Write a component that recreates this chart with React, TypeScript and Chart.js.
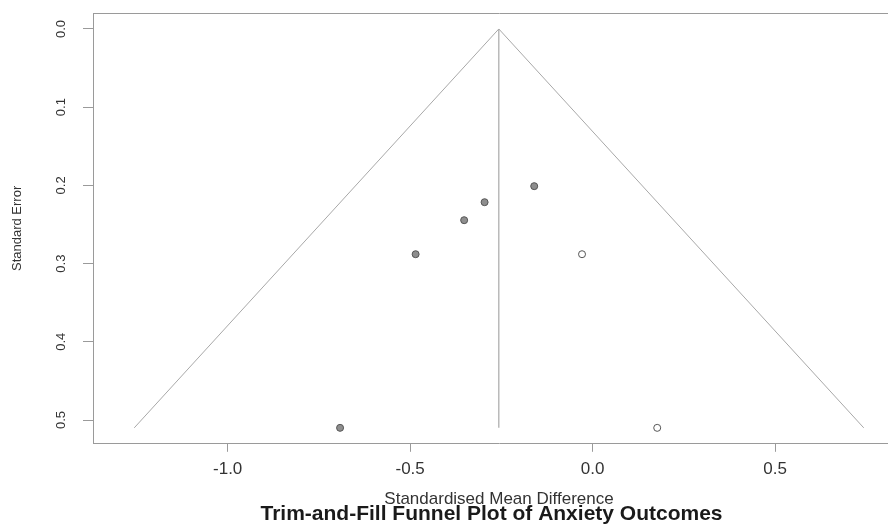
import React, { useEffect, useRef } from "react";
import { Chart, registerables } from "chart.js";

Chart.register(...registerables);

// Tick values and labels
const xTickValues = [-1.0, -0.5, 0.0, 0.5];
const xTickLabels = ["-1.0", "-0.5", "0.0", "0.5"];
const yTickValues = [0.0, 0.1, 0.2, 0.3, 0.4, 0.5];
const yTickLabels = ["0.0", "0.1", "0.2", "0.3", "0.4", "0.5"];

// Observed studies (filled grey points)
const observedSMD = [-0.16, -0.296, -0.352, -0.485, -0.692];
const observedSE = [0.201, 0.2215, 0.2445, 0.288, 0.51];

// Imputed (trim-and-fill) studies (open points)
const imputedSMD = [-0.029, 0.177];
const imputedSE = [0.288, 0.51];

// Funnel outline and pooled estimate line
const funnelSMD = [-1.256, -0.257, 0.743];
const funnelSE = [0.51, 0.0, 0.51];
const pooledSMD = [-0.257, -0.257];
const pooledSE = [0.0, 0.51];

// Axis ranges
const xRange = [-1.369, 0.856];
const yRange = [-0.0204, 0.5304];

const TITLE = "Trim-and-Fill Funnel Plot of Anxiety Outcomes";
const X_TITLE = "Standardised Mean Difference";
const Y_TITLE = "Standard Error";

const FONT = "'Liberation Sans', Arial, Helvetica, sans-serif";
const TEXT = "#333333";
const BOX = "#9a9a9a";

const pts = (xs: number[], ys: number[]) => xs.map((x, i) => ({ x, y: ys[i] }));

const noPad = (s: any) => {
  s.paddingTop = 0;
  s.paddingBottom = 0;
  s.paddingLeft = 0;
  s.paddingRight = 0;
};

export default function App() {
  const ref = useRef<HTMLCanvasElement | null>(null);

  useEffect(() => {
    if (!ref.current) return;
    const chart = new Chart(ref.current, {
      type: "scatter",
      data: {
        datasets: [
          {
            label: "Observed",
            data: pts(observedSMD, observedSE),
            pointRadius: 3.5,
            pointBackgroundColor: "#8e8e8e",
            pointBorderColor: "#555555",
            pointBorderWidth: 1,
            showLine: false,
          },
          {
            label: "Imputed",
            data: pts(imputedSMD, imputedSE),
            pointRadius: 3.5,
            pointBackgroundColor: "#ffffff",
            pointBorderColor: "#555555",
            pointBorderWidth: 1,
            showLine: false,
          },
          {
            label: "Pooled",
            data: pts(pooledSMD, pooledSE),
            showLine: true,
            pointRadius: 0,
            borderColor: "#a8a8a8",
            borderWidth: 1.2,
            fill: false,
          },
          {
            label: "Funnel",
            data: pts(funnelSMD, funnelSE),
            showLine: true,
            pointRadius: 0,
            borderColor: "#a8a8a8",
            borderWidth: 1,
            fill: false,
          },
        ],
      },
      options: {
        animation: false,
        responsive: false,
        maintainAspectRatio: false,
        layout: { padding: 0 },
        plugins: {
          legend: { display: false },
          tooltip: { enabled: false },
          title: {
            display: true,
            position: "bottom",
            text: TITLE,
            color: "#1a1a1a",
            font: { family: FONT, size: 21, weight: "bold", lineHeight: 1.2 },
            padding: { top: 0, bottom: -2 },
          },
        },
        scales: {
          x: {
            type: "linear",
            position: "bottom",
            min: xRange[0],
            max: xRange[1],
            afterBuildTicks: (s: any) => {
              s.ticks = xTickValues.map((v) => ({ value: v }));
            },
            afterFit: (s: any) => {
              s.height = 58;
              noPad(s);
            },
            ticks: {
              autoSkip: false,
              maxRotation: 0,
              minRotation: 0,
              padding: 7,
              color: TEXT,
              font: { family: FONT, size: 17 },
              callback: (_v: any, i: number) => xTickLabels[i],
            },
            grid: {
              display: true,
              drawOnChartArea: false,
              drawTicks: true,
              tickLength: 8,
              color: BOX,
              lineWidth: 1,
            },
            border: { display: true, color: BOX, width: 1 },
            title: {
              display: true,
              text: X_TITLE,
              color: TEXT,
              font: { family: FONT, size: 17, lineHeight: 1.2 },
              padding: { top: 0, bottom: -8 },
            },
          },
          y: {
            type: "linear",
            position: "left",
            reverse: true,
            min: yRange[0],
            max: yRange[1],
            afterBuildTicks: (s: any) => {
              s.ticks = yTickValues.map((v) => ({ value: v }));
            },
            afterFit: (s: any) => {
              s.width = 93;
              noPad(s);
            },
            ticks: {
              autoSkip: false,
              minRotation: 90,
              maxRotation: 90,
              crossAlign: "center",
              padding: 12.5,
              color: TEXT,
              font: { family: FONT, size: 13 },
              callback: (_v: any, i: number) => yTickLabels[i],
            },
            grid: {
              display: true,
              drawOnChartArea: false,
              drawTicks: true,
              tickLength: 10,
              color: BOX,
              lineWidth: 1,
            },
            border: { display: true, color: BOX, width: 1 },
            title: {
              display: true,
              text: Y_TITLE,
              color: TEXT,
              font: { family: FONT, size: 13, lineHeight: 1.2 },
              padding: { top: 10, bottom: 0 },
            },
          },
          xTop: {
            type: "linear",
            position: "top",
            display: true,
            grid: { display: false },
            ticks: { display: false },
            border: { display: true, color: BOX, width: 1 },
            afterFit: (s: any) => {
              s.height = 13;
              noPad(s);
            },
          },
          yRight: {
            type: "linear",
            position: "right",
            display: true,
            grid: { display: false },
            ticks: { display: false },
            border: { display: true, color: BOX, width: 1 },
            afterFit: (s: any) => {
              s.width = 78;
              noPad(s);
            },
          },
        },
      },
    } as any);
    return () => chart.destroy();
  }, []);

  return (
    <div
      style={{
        position: "fixed",
        left: 0,
        top: 0,
        width: 888,
        height: 525,
        overflow: "hidden",
        background: "#ffffff",
      }}
    >
      <canvas ref={ref} width={983} height={525} style={{ display: "block", width: 983, height: 525 }} />
    </div>
  );
}
